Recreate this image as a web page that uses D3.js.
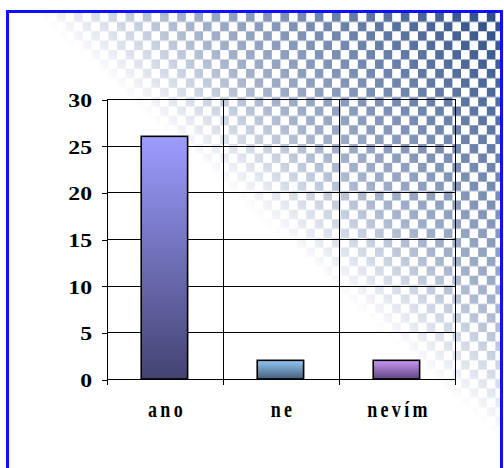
<!DOCTYPE html>
<html><head><meta charset="utf-8">
<script src="https://cdn.jsdelivr.net/npm/d3@7"></script>
<style>
html,body{margin:0;padding:0;background:#fff;}
svg{display:block;}
</style></head>
<body>
<script>
const categories = ["ano", "ne", "nevím"];
const values = [26, 2, 2];
const yTicks = [0, 5, 10, 15, 20, 25, 30];
const barTop = ["#9c9cff", "#92c8f6", "#ca98f4"];
const barBottom = ["#434372", "#465e7c", "#5e4680"];

const W = 504, H = 468;
const svg = d3.select("body").append("svg").attr("width", W).attr("height", H);
const defs = svg.append("defs");

// checker pattern background
const pat = defs.append("pattern").attr("id", "chk").attr("patternUnits", "userSpaceOnUse")
  .attr("width", 17.2).attr("height", 18.8).attr("x", 5.2).attr("y", 12.5);
pat.append("rect").attr("width", 17.2).attr("height", 18.8).attr("fill", "#ffffff");
pat.append("rect").attr("x", 0).attr("y", 0).attr("width", 8.6).attr("height", 9.4).attr("fill", "#264782");
pat.append("rect").attr("x", 8.6).attr("y", 9.4).attr("width", 8.6).attr("height", 9.4).attr("fill", "#264782");

const fade = defs.append("linearGradient").attr("id", "fade").attr("gradientUnits", "userSpaceOnUse")
  .attr("x1", 265).attr("y1", 225).attr("x2", 485).attr("y2", -15);
fade.append("stop").attr("offset", 0).attr("stop-color", "#fff").attr("stop-opacity", 0);
fade.append("stop").attr("offset", 0.3).attr("stop-color", "#fff").attr("stop-opacity", 0.42);
fade.append("stop").attr("offset", 1).attr("stop-color", "#fff").attr("stop-opacity", 1);
const mask = defs.append("mask").attr("id", "fmask").attr("maskUnits", "userSpaceOnUse")
  .attr("x", 0).attr("y", 0).attr("width", W).attr("height", H);
mask.append("rect").attr("width", W).attr("height", H).attr("fill", "url(#fade)");

svg.append("rect").attr("x", 8).attr("y", 12).attr("width", 493).attr("height", 460)
  .attr("fill", "url(#chk)").attr("mask", "url(#fmask)");

// frame
svg.append("rect").attr("x", 7.5).attr("y", 11.5).attr("width", 494).attr("height", 470)
  .attr("fill", "none").attr("stroke", "#1010ff").attr("stroke-width", 3);

// scales
const x = d3.scaleBand().domain(categories).range([107, 455]).padding(0);
const y = d3.scaleLinear().domain([0, 30]).range([379, 99]);
const bw = x.bandwidth();

// bar gradients
categories.forEach((c, i) => {
  const g = defs.append("linearGradient").attr("id", "bg" + i).attr("x1", 0).attr("y1", 0).attr("x2", 0).attr("y2", 1);
  g.append("stop").attr("offset", 0).attr("stop-color", barTop[i]);
  g.append("stop").attr("offset", 1).attr("stop-color", barBottom[i]);
});

const grid = svg.append("g").attr("stroke", "#000").attr("stroke-width", 1).attr("shape-rendering", "crispEdges");
grid.selectAll("line.h").data(yTicks).join("line").attr("class", "h")
  .attr("x1", 107).attr("x2", 455).attr("y1", d => Math.round(y(d)) + 0.5).attr("y2", d => Math.round(y(d)) + 0.5);
const bounds = categories.map(c => x(c)).concat([x.range()[1]]);
grid.selectAll("line.v").data(bounds).join("line").attr("class", "v")
  .attr("x1", d => Math.round(d) + 0.5).attr("x2", d => Math.round(d) + 0.5)
  .attr("y1", y(30)).attr("y2", y(0) + 6);

// y axis
const yAxis = svg.append("g").attr("transform", "translate(107.5,0.5)")
  .call(d3.axisLeft(y).tickValues(yTicks).tickSize(6).tickSizeOuter(0).tickFormat(d3.format("d")));
yAxis.select(".domain").remove();
yAxis.selectAll(".tick line").attr("stroke", "#000").attr("shape-rendering", "crispEdges");
yAxis.selectAll(".tick text")
  .attr("x", 0).attr("dy", "0.36em")
  .attr("transform", "translate(-15.5,0) scale(1.25,1)")
  .style("font-family", "'Liberation Serif','Times New Roman',serif")
  .style("font-weight", "bold").style("font-size", "19px").attr("fill", "#000");

// bars
svg.append("g").selectAll("rect").data(values).join("rect")
  .attr("x", (d, i) => x(categories[i]) + bw * 0.295)
  .attr("width", bw * 0.4)
  .attr("y", d => y(d))
  .attr("height", d => y(0) - y(d))
  .attr("fill", (d, i) => "url(#bg" + i + ")")
  .attr("stroke", "#000").attr("stroke-width", 1.6);

// x labels
svg.append("g").selectAll("text").data(categories).join("text")
  .attr("transform", d => `translate(${x(d) + bw / 2 + 2},416.5) scale(1,1.3)`)
  .attr("text-anchor", "middle")
  .style("font-family", "'Liberation Serif','Times New Roman',serif")
  .style("font-weight", "bold").style("font-size", "18px").style("letter-spacing", "3.3px")
  .attr("fill", "#000")
  .text(d => d);
</script>
</body></html>
